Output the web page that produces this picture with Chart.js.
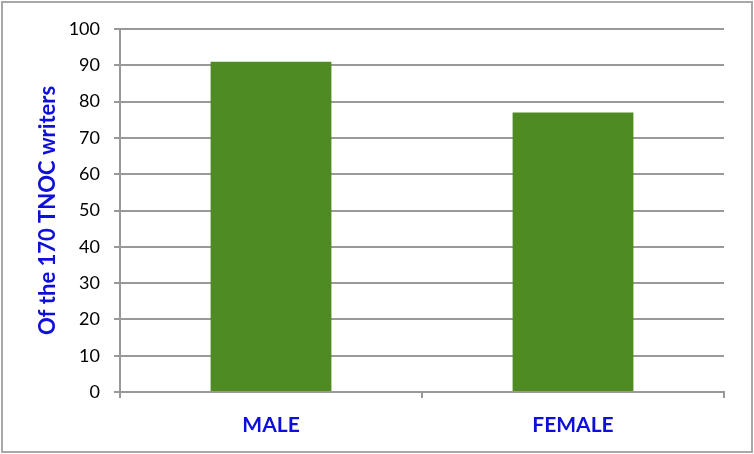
<!DOCTYPE html>
<html>
<head>
<meta charset="utf-8">
<script src="https://cdn.jsdelivr.net/npm/chart.js@4"></script>
<style>
  html, body { margin: 0; padding: 0; background: #fff; }
  #wrap { width: 754px; height: 454px; position: relative; }
</style>
</head>
<body>
<div id="wrap"><canvas id="chart" width="754" height="454"></canvas></div>
<script>
// data
const categories = ['MALE', 'FEMALE'];
const writerCounts = [91, 77];
const yTicks = [0, 10, 20, 30, 40, 50, 60, 70, 80, 90, 100];

const blue = '#0f0fdc';
const gridGray = '#999999';

// grey frame round the whole picture
const framePlugin = {
  id: 'frame',
  afterDraw(chart) {
    const ctx = chart.ctx;
    ctx.save();
    ctx.strokeStyle = '#a8a8a8';
    ctx.lineWidth = 2;
    ctx.strokeRect(2, 2, chart.width - 4, chart.height - 4);
    ctx.restore();
  }
};

new Chart(document.getElementById('chart'), {
  type: 'bar',
  data: {
    labels: categories,
    datasets: [{
      data: writerCounts,
      backgroundColor: '#4e8b22',
      borderWidth: 0,
      barPercentage: 0.8,
      categoryPercentage: 0.5
    }]
  },
  options: {
    responsive: false,
    animation: false,
    layout: { padding: { top: 29, right: 30, left: 0, bottom: 0 } },
    plugins: {
      legend: { display: false },
      tooltip: { enabled: false }
    },
    scales: {
      x: {
        afterFit(scale) { scale.height = 62; },
        grid: {
          display: true,
          offset: true,
          drawOnChartArea: false,
          drawTicks: true,
          tickLength: 6,
          color: gridGray,
          lineWidth: 2
        },
        border: { color: gridGray, width: 2 },
        ticks: {
          color: blue,
          padding: 15,
          font: { family: 'Lato', size: 21, weight: 'bold' }
        }
      },
      y: {
        min: 0,
        max: 100,
        afterFit(scale) { scale.width = 120; },
        afterBuildTicks(scale) { scale.ticks = yTicks.map(v => ({ value: v })); },
        grid: {
          color: gridGray,
          lineWidth: 2,
          tickLength: 6
        },
        border: { color: gridGray, width: 2 },
        ticks: {
          color: '#000',
          padding: 14,
          font: { family: 'Lato', size: 18 }
        },
        title: {
          display: true,
          text: 'Of the 170 TNOC writers',
          color: blue,
          padding: { top: 35, bottom: 0 },
          font: { family: 'Lato', size: 22, weight: 'bold' }
        }
      }
    }
  },
  plugins: [framePlugin]
});
</script>
</body>
</html>
